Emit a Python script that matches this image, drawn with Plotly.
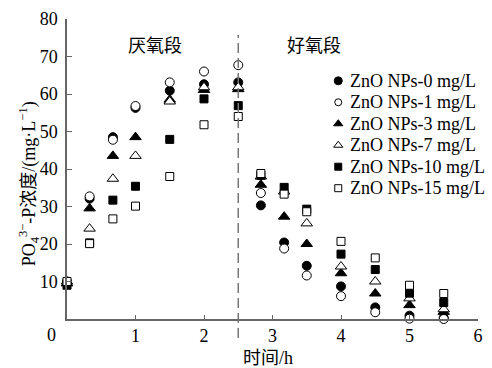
import plotly.graph_objects as go

time_h = [0, 0.33, 0.67, 1.0, 1.5, 2.0, 2.5, 2.83, 3.17, 3.5, 4.0, 4.5, 5.0, 5.5]

series_names = ["ZnO NPs-0 mg/L", "ZnO NPs-1 mg/L", "ZnO NPs-3 mg/L",
                "ZnO NPs-7 mg/L", "ZnO NPs-10 mg/L", "ZnO NPs-15 mg/L"]

p_0 = [9.5, 32.1, 48.5, 56.3, 60.9, 62.6, 63.1, 30.3, 20.4, 14.2, 8.7, 3.1, 0.9, 0.3]
p_1 = [10.0, 32.7, 47.8, 56.8, 63.1, 66.0, 67.7, 33.6, 18.8, 11.6, 6.1, 1.8, 0.1, 0.0]
p_3 = [9.5, 29.5, 43.5, 48.5, 58.5, 61.1, 61.3, 35.8, 27.3, 20.0, 12.2, 6.8, 3.7, 1.9]
p_7 = [10.0, 24.1, 37.4, 43.5, 58.0, 61.8, 61.8, 38.0, 34.0, 25.5, 14.0, 10.0, 5.5, 2.6]
p_10 = [9.0, 20.3, 31.7, 35.4, 47.9, 58.7, 56.9, 38.3, 35.1, 29.3, 17.3, 13.2, 6.9, 4.4]
p_15 = [10.0, 20.1, 26.7, 30.1, 38.0, 51.8, 54.0, 38.8, 33.3, 28.6, 20.7, 16.3, 9.0, 6.8]

series_values = [p_0, p_1, p_3, p_7, p_10, p_15]

x_ticks = [1, 2, 3, 4, 5, 6]
y_ticks = [0, 10, 20, 30, 40, 50, 60, 70, 80]
y_tick_text = ["", "10", "20", "30", "40", "50", "60", "70", "80"]

phase_boundary = 2.5
phase_labels = ["厌氧段", "好氧段"]

symbols = ["circle", "circle", "triangle-up", "triangle-up", "square", "square"]
fills = ["black", "white", "black", "white", "black", "white"]
sizes = [9, 9, 10, 10, 8, 8]
legend_sizes = [8, 7, 8, 8, 7, 7]

SERIF = "Liberation Serif, Times New Roman, Noto Sans CJK SC, serif"
AX = "#666666"

# legend layout (fractions of plot area)
LEG_MX, LEG_TX, LEG_Y0, LEG_DY = 0.660, 0.684, 0.794, 0.0716

fig = go.Figure()
for name, vals, sym, fc, sz in zip(series_names, series_values, symbols, fills, sizes):
    fig.add_trace(go.Scatter(
        x=time_h, y=vals, mode="markers", name=name, cliponaxis=False, showlegend=False,
        marker=dict(symbol=sym, size=sz, color=fc, line=dict(color="black", width=1)),
    ))

# manual legend (compact row spacing like the reference)
for i, (name, sym, fc, lsz) in enumerate(zip(series_names, symbols, fills, legend_sizes)):
    ly = LEG_Y0 - i * LEG_DY
    fig.add_trace(go.Scatter(
        x=[LEG_MX], y=[ly], xaxis="x2", yaxis="y2", mode="markers", cliponaxis=False,
        showlegend=False, hoverinfo="skip",
        marker=dict(symbol=sym, size=lsz, color=fc, line=dict(color="black", width=1)),
    ))
    fig.add_annotation(xref="paper", yref="paper", x=LEG_TX, y=ly, text=name,
                       showarrow=False, xanchor="left", yanchor="middle",
                       font=dict(size=18, family=SERIF, color="black"))

fig.add_shape(type="line", xref="x", yref="paper", x0=phase_boundary, x1=phase_boundary,
              y0=-0.063, y1=0.947, line=dict(color="#777777", width=1.5, dash="10px,5px"))

fig.add_annotation(x=1.29, y=72.8, text=phase_labels[0], showarrow=False,
                   font=dict(size=18, family=SERIF, color="black"))
fig.add_annotation(x=3.6, y=72.8, text=phase_labels[1], showarrow=False,
                   font=dict(size=18, family=SERIF, color="black"))
fig.add_annotation(x=0, y=0, text="0", showarrow=False, xshift=-16, yshift=-16,
                   font=dict(size=18, family=SERIF, color="black"))
fig.add_annotation(xref="paper", yref="paper", x=0.488, y=-0.129, text="时间/h",
                   showarrow=False, xanchor="center", yanchor="middle",
                   font=dict(size=18, family=SERIF, color="black"))
fig.add_annotation(xref="paper", yref="paper", x=-0.094, y=0.45, textangle=-90,
                   text="PO<sub>4</sub><sup>3−</sup>-P浓度/(mg·L<sup>−1</sup>)",
                   showarrow=False, xanchor="center", yanchor="middle",
                   font=dict(size=18, family=SERIF, color="black"))

fig.update_layout(
    width=492, height=368,
    margin=dict(l=67, r=9, t=16, b=49),
    paper_bgcolor="white", plot_bgcolor="white",
    font=dict(family=SERIF, size=18, color="black"),
    showlegend=False,
    xaxis=dict(range=[0, 6], tickvals=x_ticks, showgrid=False, zeroline=False,
               showline=True, linecolor=AX, linewidth=1.5, ticks="inside", ticklen=4,
               tickcolor=AX, tickfont=dict(size=18, family=SERIF)),
    yaxis=dict(range=[0, 80], tickvals=y_ticks, ticktext=y_tick_text, showgrid=False,
               zeroline=False, showline=True, linecolor=AX, linewidth=1.5,
               ticks="inside", ticklen=5, tickcolor=AX, ticklabelstandoff=4,
               tickfont=dict(size=18, family=SERIF)),
    xaxis2=dict(overlaying="x", range=[0, 1], visible=False),
    yaxis2=dict(overlaying="y", range=[0, 1], visible=False),
)

fig.write_html("out.html", config={"displayModeBar": False},
               post_script="document.body.style.margin='0';")
